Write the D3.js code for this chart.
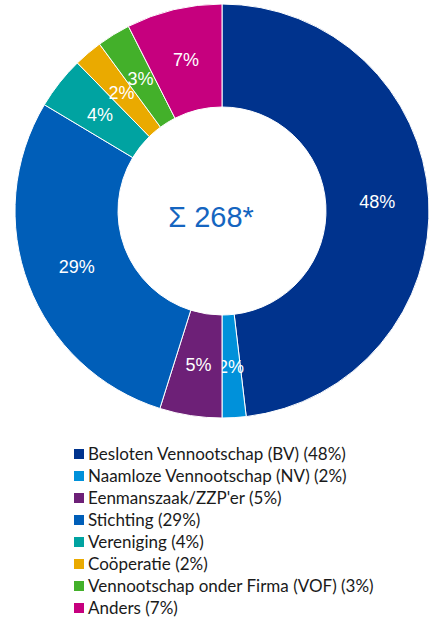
<!doctype html>
<meta charset="utf-8">
<style>
  body { margin: 0; background: #fff; }
  svg { display: block; }
</style>
<body>
<script src="https://cdn.jsdelivr.net/npm/d3@7"></script>
<script>

const categories = ["Besloten Vennootschap (BV)", "Naamloze Vennootschap (NV)", "Eenmanszaak/ZZP'er",
                    "Stichting", "Vereniging", "Coöperatie", "Vennootschap onder Firma (VOF)", "Anders"];
const counts = [129, 5, 13, 77, 11, 6, 7, 20];
const percentLabels = ["48%", "2%", "5%", "29%", "4%", "2%", "3%", "7%"];
const colors = ["#00338D", "#0091DA", "#6D2077", "#005EB8", "#00A3A1", "#EAAA00", "#43B02A", "#C6007E"];
const totalLabel = "Σ 268*";

let width = 429,
    height = 618,
    cx = 222, cy = 211,
    outerR = 207,
    innerR = 104;

let svg = d3.select("body").append("svg")
    .attr("width", width)
    .attr("height", height);

let data = categories.map((c, i) => ({ name: c, value: counts[i], label: percentLabels[i], color: colors[i] }));

let pie = d3.pie().value(d => d.value).sort(null);
let arc = d3.arc().innerRadius(innerR).outerRadius(outerR);

let g = svg.append("g").attr("transform", `translate(${cx},${cy})`);

let slices = g.selectAll("g.slice")
    .data(pie(data))
  .enter().append("g").attr("class", "slice");

slices.append("path")
    .attr("d", arc)
    .attr("fill", d => d.data.color)
    .attr("stroke", "#fff")
    .attr("stroke-width", 1);

slices.append("text")
    .attr("transform", d => `translate(${arc.centroid(d)})`)
    .attr("text-anchor", "middle")
    .attr("dy", "0.35em")
    .attr("fill", "#fff")
    .style("font", "18px 'Liberation Sans', Arial, sans-serif")
    .text(d => d.data.label);

// total in the middle
g.append("text")
    .attr("x", -11)
    .attr("y", 16)
    .attr("text-anchor", "middle")
    .attr("fill", "#1565C0")
    .style("font", "29px 'Liberation Sans', Arial, sans-serif")
    .text(totalLabel);

// legend
let legend = svg.append("g").attr("transform", "translate(74,454)");
let rowH = 22;

let rows = legend.selectAll("g.row")
    .data(data)
  .enter().append("g")
    .attr("class", "row")
    .attr("transform", (d, i) => `translate(0,${i * rowH})`);

rows.append("rect")
    .attr("x", 0).attr("y", -5)
    .attr("width", 10).attr("height", 10)
    .attr("fill", d => d.color);

rows.append("text")
    .attr("x", 14)
    .attr("dy", "0.35em")
    .attr("fill", "#1a1a1a")
    .style("font", "17px Lato, 'Open Sans', sans-serif")
    .text(d => `${d.name} (${d.label})`);

</script>
</body>
